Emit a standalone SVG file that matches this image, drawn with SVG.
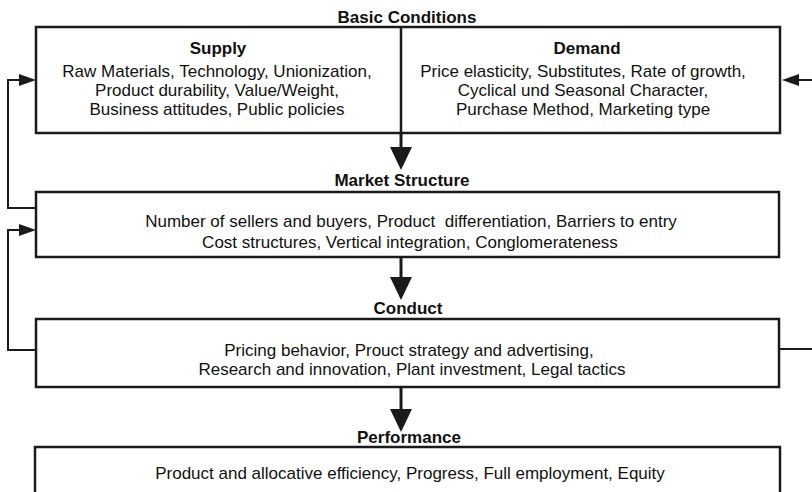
<svg xmlns="http://www.w3.org/2000/svg" width="812" height="492" viewBox="0 0 812 492">
  <style>
    .box { fill: #ffffff; stroke: #1a1a1a; stroke-width: 2.5; }
    .lbl { font-family: "Liberation Sans", Arial, sans-serif; font-size: 17px; font-weight: bold; fill: #111; text-anchor: middle; }
    .txt { font-family: "Liberation Sans", Arial, sans-serif; font-size: 17px; fill: #111; text-anchor: middle; white-space: pre; }
    .con { fill: none; stroke: #1a1a1a; stroke-width: 2; }
    .shaft { fill: none; stroke: #1a1a1a; stroke-width: 3; }
  </style>
  <defs>
    <marker id="down" markerUnits="userSpaceOnUse" markerWidth="23" markerHeight="23" refX="0" refY="11" orient="auto" overflow="visible">
      <path d="M0,0 L23,11 L0,22 Z" fill="#1a1a1a"/>
    </marker>
    <marker id="side" markerUnits="userSpaceOnUse" markerWidth="17" markerHeight="12" refX="0" refY="6" orient="auto" overflow="visible">
      <path d="M0,0 L17,6 L0,12 Z" fill="#1a1a1a"/>
    </marker>
  </defs>
  <rect width="812" height="492" fill="#ffffff"/>

  <g id="basic-conditions">
    <text class="lbl" x="407" y="23">Basic Conditions</text>
    <rect class="box" x="36" y="27" width="744" height="106"/>
    <line x1="401" y1="27" x2="401" y2="133" stroke="#1a1a1a" stroke-width="2.5"/>
    <g id="supply">
      <text class="lbl" x="218" y="54">Supply</text>
      <text class="txt" x="217" y="77">Raw Materials, Technology, Unionization,</text>
      <text class="txt" x="217" y="96">Product durability, Value/Weight,</text>
      <text class="txt" x="217" y="115">Business attitudes, Public policies</text>
    </g>
    <g id="demand">
      <text class="lbl" x="587" y="54">Demand</text>
      <text class="txt" x="583" y="77">Price elasticity, Substitutes, Rate of growth,</text>
      <text class="txt" x="583" y="96">Cyclical und Seasonal Character,</text>
      <text class="txt" x="583" y="115">Purchase Method, Marketing type</text>
    </g>
  </g>

  <g id="market-structure">
    <text class="lbl" x="402" y="186">Market Structure</text>
    <rect class="box" x="36" y="192" width="743" height="65"/>
    <text class="txt" x="411" y="227" xml:space="preserve">Number of sellers and buyers, Product  differentiation, Barriers to entry</text>
    <text class="txt" x="410" y="248">Cost structures, Vertical integration, Conglomerateness</text>
  </g>

  <g id="conduct">
    <text class="lbl" x="408" y="314">Conduct</text>
    <rect class="box" x="36" y="319" width="743" height="68"/>
    <text class="txt" x="409" y="356">Pricing behavior, Prouct strategy and advertising,</text>
    <text class="txt" x="412" y="375">Research and innovation, Plant investment, Legal tactics</text>
  </g>

  <g id="performance">
    <text class="lbl" x="409" y="443">Performance</text>
    <rect class="box" x="35" y="447" width="745" height="60"/>
    <text class="txt" x="410" y="479">Product and allocative efficiency, Progress, Full employment, Equity</text>
  </g>

  <g id="connectors">
    <line class="shaft" x1="401" y1="133" x2="401" y2="147" marker-end="url(#down)"/>
    <line class="shaft" x1="401" y1="257" x2="401" y2="277" marker-end="url(#down)"/>
    <line class="shaft" x1="401" y1="387" x2="401" y2="409" marker-end="url(#down)"/>
    <path class="con" d="M36,208 H8 V80 H19" marker-end="url(#side)"/>
    <path class="con" d="M36,350 H8 V230 H19" marker-end="url(#side)"/>
    <line class="con" x1="779" y1="349" x2="812" y2="349"/>
    <line class="con" x1="812" y1="80" x2="799" y2="80" marker-end="url(#side)"/>
  </g>
</svg>
